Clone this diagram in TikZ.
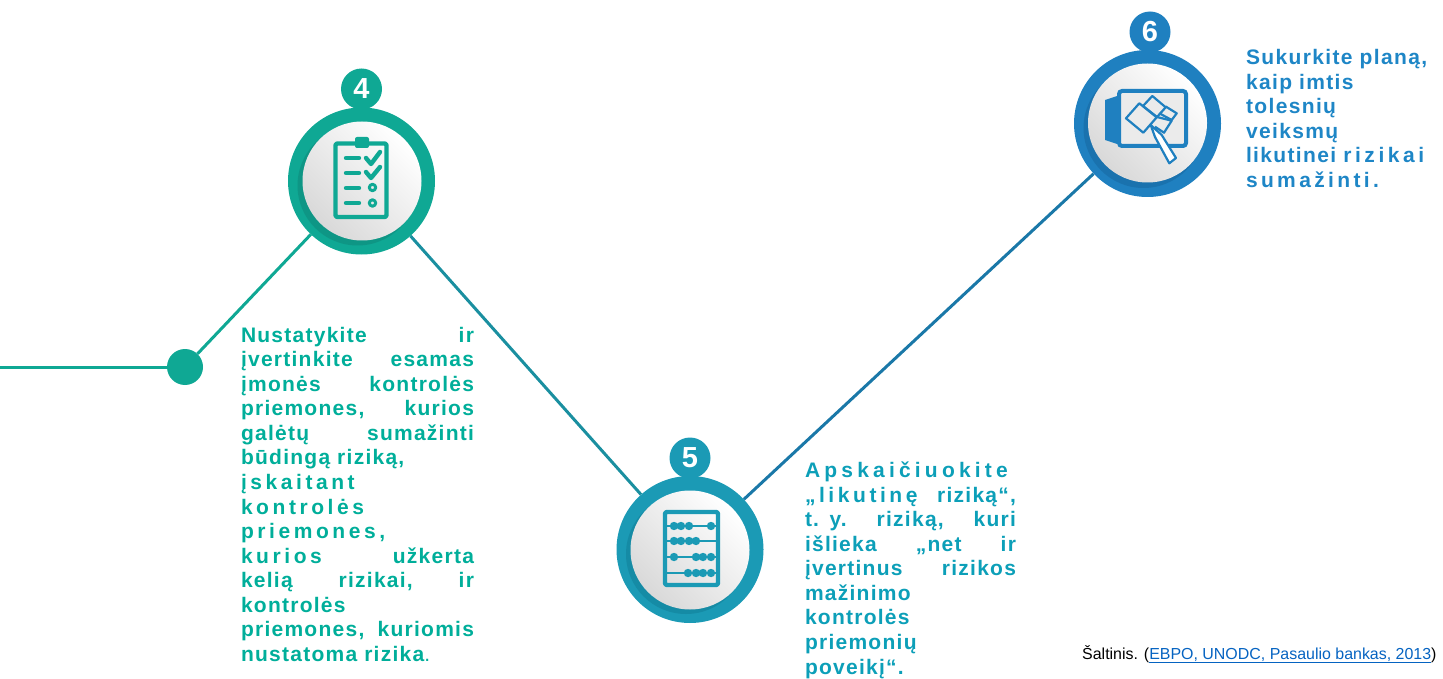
\documentclass[tikz,border=0pt]{standalone}
\usepackage{fontspec}
\setmainfont{Liberation Sans}
\usetikzlibrary{backgrounds}
\definecolor{cfour}{HTML}{0FA894}
\definecolor{cfourd}{HTML}{0E9685}
\definecolor{tfour}{HTML}{00AE9A}
\definecolor{cfive}{HTML}{1B9AB5}
\definecolor{cfived}{HTML}{158BA5}
\definecolor{tfive}{HTML}{0C9FB8}
\definecolor{csix}{HTML}{1F80C0}
\definecolor{csixd}{HTML}{1A72AE}
\definecolor{tsix}{HTML}{1E86C6}
\definecolor{clinka}{HTML}{1A8FA0}
\definecolor{clink}{HTML}{1A78A8}
\definecolor{csource}{HTML}{0563C1}
\newcommand{\lnJ}[2][6]{\hbox to \hsize{\addfontfeature{LetterSpace=#1}#2}}
\newcommand{\lnL}[2][6]{\hbox to \hsize{\addfontfeature{LetterSpace=#1}#2\hfil}}
\newcommand{\wide}[1]{{\addfontfeature{LetterSpace=17}#1}}
\tikzset{
  x=1pt,y=-1pt,
  ring/.style={circle,draw=none,minimum size=147pt,inner sep=0pt},
  face/.style={circle,minimum size=119pt,inner sep=0pt,shading=axis,left color=black!15,middle color=black!4,right color=white,shading angle=135},
  badge/.style={circle,minimum size=41pt,inner sep=0pt,text=white,font=\fontsize{29}{29}\selectfont\bfseries},
  dotnode/.style={circle,minimum size=36pt,inner sep=0pt,fill=cfour},
  conn/.style={line width=3pt},
  desc/.style={anchor=north west,inner sep=0pt,outer sep=0pt,align=left,font=\fontsize{21}{24.55}\selectfont\bfseries},
  ico/.style={line width=4.4pt,line cap=round,line join=round},
  icothin/.style={line width=2.2pt,line join=round},
}
\begin{document}
\begin{tikzpicture}
\useasboundingbox (0,0) rectangle (1443,679);
% start and dot
\coordinate (start) at (0,367);
\node[dotnode] (dot) at (185,367) {};
% ring 4
\node[ring,fill=cfour] (r4) at (361.5,181) {};
\fill[cfourd] (357.5,185.5) circle (60);
\node[face] (f4) at (362,181) {};
\node[badge,fill=cfour] (b4) at (361.5,89) {4};
% ring 5
\node[ring,fill=cfive] (r5) at (690,549.5) {};
\fill[cfived] (686,554) circle (60);
\node[face] (f5) at (690,550) {};
\node[badge,fill=cfive] (b5) at (690,458) {5};
% ring 6
\node[ring,fill=csix] (r6) at (1147.5,123.5) {};
\fill[csixd] (1143.5,128) circle (60);
\node[face] (f6) at (1147.5,123) {};
\node[badge,fill=csix] (b6) at (1150,32) {6};
% connectors
\begin{pgfonlayer}{background}
\draw[conn,cfour] (start) -- (dot);
\draw[conn,cfour] (dot) -- (r4);
\draw[conn,clinka] (r4) -- (r5);
\draw[conn,clink] (r5) -- (r6);
\end{pgfonlayer}
% icon 4: clipboard
\begin{scope}[ico,draw=cfour]
\draw[rounded corners=2pt] (335.5,143.5) rectangle (386.5,217);
\fill[cfour,rounded corners=2pt] (355,137) rectangle (369,148);
\draw (346,158) -- (359,158) (346,173) -- (359,173) (346,188) -- (359,188) (346,203) -- (359,203);
\draw (366,158) -- (371,164) -- (380,152);
\draw (366,172) -- (371,178) -- (380,167);
\draw[line width=3pt] (372.5,187.5) circle (3.2) (372.5,203) circle (3.2);
\end{scope}
% icon 5: abacus
\begin{scope}[ico,draw=cfive]
\draw[rounded corners=2pt] (665,512) rectangle (718,585);
\draw[line width=2.2pt] (666,526) -- (717,526) (666,541) -- (717,541) (666,557) -- (717,557) (666,573) -- (717,573);
\fill[cfive]
 (674,526) circle (4.2) (681,526) circle (4.2) (689,526) circle (4.2) (711,526) circle (4.2)
 (674,541) circle (4.2) (681,541) circle (4.2) (689,541) circle (4.2) (696,541) circle (4.2)
 (674,557) circle (4.2) (696,557) circle (4.2) (703,557) circle (4.2) (711,557) circle (4.2)
 (688,573) circle (4.2) (696,573) circle (4.2) (703,573) circle (4.2) (711,573) circle (4.2);
\end{scope}
% icon 6: tablet, sheets, pencil
\begin{scope}[draw=csix]
\draw[line width=4pt,rounded corners=3pt,fill=black!8] (1119,91) rectangle (1186,146);
\fill[csix] (1105,100) -- (1117,96) -- (1117,144) -- (1105,140) -- cycle;
\draw[icothin] (1139.3,103.3) -- (1156.7,117.3) -- (1143.3,132.7) -- (1126,118.3) -- cycle;
\draw[icothin] (1152.3,96) -- (1165.7,107.3) -- (1157,117) -- (1143,106) -- cycle;
\draw[icothin] (1165.7,106.5) -- (1176.7,113.3) -- (1171.7,120) -- (1159.3,113.3);
\draw[icothin] (1157,117) -- (1171.7,120.7) -- (1164,132.7) -- (1155,126.7);
\draw[icothin,fill=white] (1150.7,125) -- (1161.7,135) -- (1176,158) -- (1169.3,163.3) -- (1155,137) -- cycle;
\end{scope}
% texts
\node[desc,text width=233pt,text=tfour] (t4) at (241,327) {%
\lnJ{Nustatykite\hfill ir}
\lnJ{įvertinkite\hfill esamas}
\lnJ{įmonės\hfill kontrolės}
\lnJ{priemones,\hfill kurios}
\lnJ{galėtų\hfill sumažinti}
\lnL{būdingą riziką,}
\lnL[17]{įskaitant}
\lnL[17]{kontrolės}
\lnL[17]{priemones,}
\lnJ{\wide{kurios}\hfill užkerta}
\lnJ{kelią\hfill rizikai,\hfill ir}
\lnL{kontrolės}
\lnJ{priemones,\hfill kuriomis}
\lnL{nustatoma rizika{\mdseries.}}};
\node[desc,text width=211pt,text=tfive] (t5) at (805,462) {%
\lnL[20]{Apskaičiuokite}
\lnJ{\wide{„likutinę}\hfill riziką“,}
\lnJ{t. y.\hfill riziką,\hfill kuri}
\lnJ{išlieka\hfill „net\hfill ir}
\lnJ{įvertinus\hfill rizikos}
\lnL{mažinimo}
\lnL{kontrolės}
\lnL{priemonių}
\lnL{poveikį“.}};
\node[desc,text width=190pt,text=tsix] (t6) at (1246,49.5) {%
\lnL[6.5]{Sukurkite planą,}
\lnL[6.5]{kaip imtis}
\lnL[6.5]{tolesnių}
\lnL[6.5]{veiksmų}
\lnL[6.5]{likutinei \wide{rizikai}}
\lnL[16]{sumažinti.}};
\node[anchor=base west,inner sep=0pt,font=\fontsize{15.95}{18}\selectfont] (src) at (1082,659) {Šaltinis. ({\color{csource}\underline{EBPO, UNODC, Pasaulio bankas, 2013}})};
\end{tikzpicture}
\end{document}
